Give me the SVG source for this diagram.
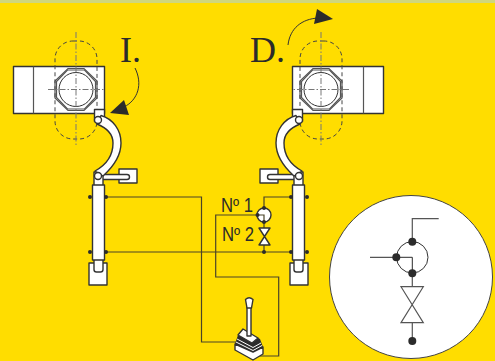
<svg xmlns="http://www.w3.org/2000/svg" width="495" height="361" viewBox="0 0 495 361">
<style>
.o{fill:#fff;stroke:#333;stroke-width:1.4;stroke-linejoin:round}
.t{fill:none;stroke:#333;stroke-width:1}
.w{fill:none;stroke:#4a4428;stroke-width:1.2}
.g{fill:none;stroke:#555;stroke-width:1.2}
.d{fill:none;stroke:#444;stroke-width:1;stroke-dasharray:4 3}
.c{fill:none;stroke:#777;stroke-width:1;stroke-dasharray:6 2 1.5 2}
.k{fill:#2b2b2b}
.a{fill:#2b2b2b;stroke:none}
.sans{font-family:"Liberation Sans",Arial,sans-serif;font-size:19.5px;fill:#2b2b2b}
.ser{font-family:"Liberation Serif","Times New Roman",serif;font-size:36px;fill:#2b2b2b}
</style>
<defs>
<g id="assembly">
<rect class="o" x="13.5" y="66.5" width="91" height="47"/>
<path class="g" d="M33.5 66.5V113.5"/>
<path class="g" d="M67.500 70H84.500L95.500 81.500V97.500L84.500 109H67.500L56.500 97.500V81.500Z"/>
<path class="g" d="M68 68.500H84L97 81V98L84 110.500H68L55 98V81Z"/>
<circle class="t" cx="76" cy="89.500" r="17"/>
<rect class="d" x="55" y="41" width="42" height="98" rx="18"/>
<path class="c" d="M76 32V146M48 89.500H104"/>
<rect class="o" x="94.500" y="109.500" width="10" height="12"/>
<rect class="o" x="119" y="169" width="18" height="14"/>
<path class="o" d="M127 174.500a2.500 2.500 0 0 1 0 5H100V174.500Z"/>
<rect class="o" x="89" y="263" width="18" height="22"/>
<path class="o" d="M94 258V269.500Q94 272 96.500 272H100.500Q103 272 103 269.500V258Z"/>
<path class="o" d="M94 172H103V186H94Z"/>
<rect class="o" x="92.500" y="185" width="12" height="75"/>
<path class="o" d="M101 115.500C113 119 121 130 121 143C121 156 113 167 103 176L95 171C106 165 113 155 113 143C113 134 107 128 97 124Z"/>
<circle class="o" cx="98" cy="120" r="3.500"/>
<circle class="o" cx="98" cy="176" r="3.500"/>
<circle class="k" cx="90" cy="197" r="2"/>
<circle class="k" cx="106" cy="197" r="2"/>
<circle class="k" cx="90" cy="252" r="2"/>
<circle class="k" cx="106" cy="252" r="2"/>
</g>
</defs>
<rect width="495" height="361" fill="#ffdd00"/>
<rect width="495" height="3" fill="#cfd67e"/>
<g id="connectors">
<path class="w" d="M106 197H201.500V342H236"/>
<path class="w" d="M106 252H291"/>
<path class="w" d="M291 197H264V208"/>
<path class="w" d="M264 245V252"/>
<path class="w" d="M258 215H215.700V277H278.700V356H252"/>
</g>
<g id="left-assembly"><use href="#assembly"/></g>
<g id="right-assembly"><use href="#assembly" transform="translate(397,0) scale(-1,1)"/></g>
<g id="label-i">
<text class="ser" x="120" y="62">I.</text>
<path class="t" d="M135 68C143 84 138 100 124 107"/>
<path class="a" d="M110 113L124 100L129 115Z"/>
</g>
<g id="label-d">
<text class="ser" x="250" y="62">D.</text>
<path class="t" d="M288 45C290 28 302 19 318 18"/>
<path class="a" d="M333 19L317 9L314 24Z"/>
</g>
<g id="valve-1">
<circle class="o" cx="264" cy="215" r="7"/>
<path class="w" d="M258 215H264V228"/>
<circle class="k" cx="264" cy="208" r="2"/>
<circle class="k" cx="257.500" cy="215" r="2"/>
<circle class="k" cx="264" cy="222" r="2"/>
<circle class="k" cx="264" cy="252" r="2"/>
<text class="sans" x="221" y="212" textLength="32" lengthAdjust="spacingAndGlyphs">Nº 1</text>
</g>
<g id="valve-2">
<path class="o" d="M259 228H270L259 245H270Z"/>
<text class="sans" x="222" y="241" textLength="32" lengthAdjust="spacingAndGlyphs">Nº 2</text>
</g>
<g id="joystick">
<path class="o" d="M235 344V350L253 360L263 354V347L253 352Z"/>
<path d="M235 344L238 335L243 329L260 339L263 347L253 352Z" fill="#2b2b2b"/>
<path d="M236 342L253 350.500L262 345.500M237 339L253 347.500L261 343" fill="none" stroke="#fff" stroke-width="1"/>
<path class="o" d="M243 329L238 335L252 343L258 338Z"/>
<rect class="o" x="247" y="306" width="4" height="30"/>
<path class="o" d="M245.500 299.500Q249 296 253 299.500L251.500 308H247Z"/>
</g>
<g id="detail">
<circle cx="411" cy="277" r="81.500" fill="#fff" stroke="#444" stroke-width="1"/>
<circle class="t" cx="412.300" cy="257.300" r="15.700"/>
<path class="g" d="M438.700 218.700H412.300V241.700"/>
<path fill="none" stroke="#2b2b2b" stroke-width="1" d="M370 257.300H412.300V273.300"/>
<path class="g" d="M412.300 273.300V286.700M412.300 322.700V341"/>
<path class="g" d="M401 286.700H423.300L401 322.700H423.300Z"/>
<circle class="k" cx="412.300" cy="241.700" r="4"/>
<circle class="k" cx="396.300" cy="257.300" r="4"/>
<circle class="k" cx="412.300" cy="273.300" r="4"/>
<circle class="k" cx="412.300" cy="341" r="4"/>
</g>
</svg>
